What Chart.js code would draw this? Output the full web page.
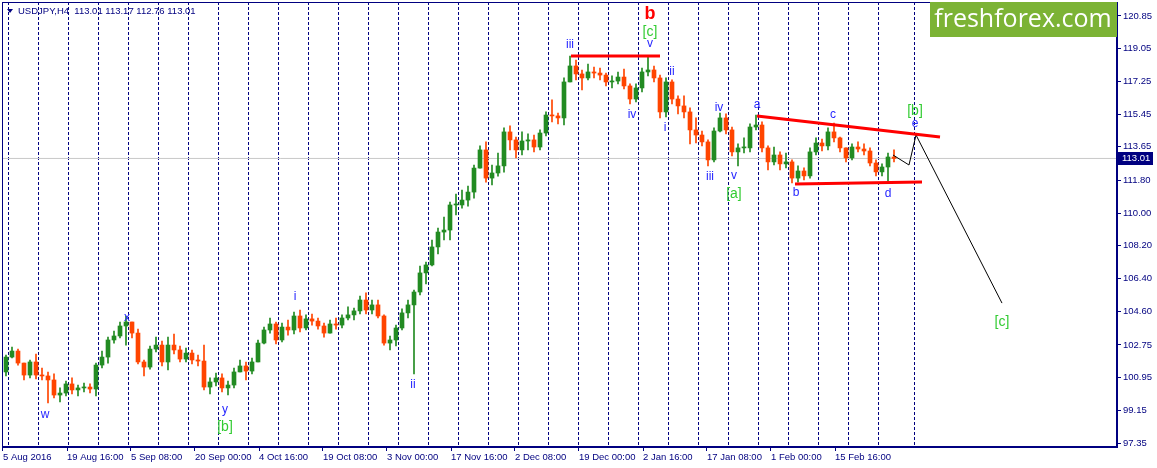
<!DOCTYPE html>
<html>
<head>
<meta charset="utf-8">
<script src="https://cdn.jsdelivr.net/npm/chart.js@4.4.1/dist/chart.umd.min.js"></script>
<style>
    html, body { margin: 0; padding: 0; background: #ffffff; }
    #wrap { width: 1157px; height: 468px; }
</style>
</head>
<body>
<div id="wrap"><canvas id="chart"></canvas></div>
<script>
// USDJPY daily candles (one candle = 6 H4 bars)
const FIRST_OPEN = 101.26;
const LAST_PRICE = 113.01;

const closes = [
    102.08, 102.41, 101.75, 101.09, 101.81, 101.09, 101.04, 100.82, 99.99, 100.10,
    100.60, 100.27, 100.38, 100.43, 100.32, 101.64, 102.08, 103.02, 103.24, 103.79,
    104.01, 103.40, 101.81, 101.53, 102.52, 102.74, 101.81, 102.74, 102.47, 101.97,
    102.30, 101.92, 101.86, 100.43, 100.71, 100.93, 100.38, 100.54, 101.26, 101.59,
    101.31, 101.81, 102.85, 103.57, 103.90, 103.02, 103.73, 103.57, 104.34, 103.68,
    104.18, 104.06, 103.79, 103.40, 103.90, 103.84, 104.23, 104.40, 104.62, 105.22,
    104.67, 104.95, 104.34, 102.85, 103.02, 103.68, 104.51, 104.95, 105.66, 106.71,
    107.15, 108.14, 108.96, 109.07, 110.45, 110.45, 110.72, 111.16, 112.48, 113.48,
    111.93, 112.21, 112.60, 114.47, 114.03, 113.48, 113.97, 114.03, 113.64, 114.41,
    115.40, 115.35, 115.24, 117.22, 118.10, 117.66, 117.44, 117.77, 117.71, 117.60,
    117.22, 117.27, 117.49, 117.00, 116.28, 116.89, 117.77, 117.88, 117.44, 115.57,
    117.22, 116.28, 115.90, 115.57, 114.58, 114.30, 113.92, 112.93, 114.52, 115.24,
    114.58, 113.37, 113.59, 113.59, 114.74, 114.85, 113.59, 112.82, 113.20, 112.71,
    112.82, 111.93, 112.32, 112.05, 113.37, 113.86, 113.70, 114.47, 114.14, 113.59,
    113.04, 113.64, 113.53, 113.42, 112.76, 112.27, 112.54, 113.09, 113.01
];

const highs = [
    102.19, 102.63, 102.52, 101.75, 101.92, 102.25, 101.48, 101.26, 101.15, 100.38,
    100.76, 100.93, 100.54, 100.65, 100.60, 101.75, 102.41, 103.18, 103.51, 104.01,
    104.34, 104.01, 103.62, 101.92, 102.69, 103.18, 102.96, 103.18, 103.35, 102.69,
    102.58, 102.47, 102.19, 102.74, 100.93, 101.20, 101.15, 100.76, 101.48, 101.92,
    101.81, 102.03, 103.02, 103.73, 104.23, 104.01, 103.95, 104.12, 104.56, 104.67,
    104.40, 104.45, 104.23, 103.95, 104.12, 104.23, 104.40, 104.84, 104.78, 105.44,
    105.61, 105.22, 105.22, 104.40, 103.24, 103.84, 104.73, 105.22, 105.77, 107.09,
    107.31, 108.52, 109.18, 109.79, 110.61, 111.05, 111.27, 111.49, 112.65, 113.70,
    113.92, 112.65, 113.31, 114.69, 114.80, 114.19, 114.47, 114.36, 114.30, 114.58,
    115.57, 116.23, 115.51, 117.44, 118.65, 118.43, 117.88, 118.21, 118.04, 117.99,
    117.71, 117.55, 117.77, 117.93, 117.11, 117.11, 117.99, 118.59, 118.10, 117.60,
    117.44, 117.33, 116.45, 116.45, 115.79, 115.24, 114.52, 114.03, 114.69, 115.51,
    115.46, 114.74, 113.81, 114.14, 114.91, 115.40, 115.02, 113.70, 113.64, 113.37,
    113.31, 112.93, 112.60, 112.49, 113.59, 114.14, 114.08, 114.69, 114.96, 114.19,
    113.59, 113.81, 113.92, 113.81, 113.59, 112.93, 112.71, 113.31, 113.48
];

const lows = [
    101.04, 102.03, 101.64, 100.82, 100.93, 100.87, 100.82, 99.55, 99.83, 99.61,
    99.94, 100.05, 99.94, 100.16, 100.10, 99.94, 101.48, 101.75, 102.85, 103.13,
    102.74, 103.13, 101.70, 101.04, 101.42, 102.36, 101.59, 101.37, 102.25, 101.81,
    101.81, 101.70, 101.59, 100.27, 100.05, 100.49, 100.16, 99.99, 100.38, 101.26,
    100.82, 101.15, 101.81, 102.80, 103.40, 102.80, 102.91, 103.29, 103.35, 103.46,
    103.57, 103.84, 103.62, 103.18, 103.40, 103.62, 103.68, 104.12, 104.12, 104.45,
    104.45, 104.45, 104.23, 102.74, 102.47, 102.69, 103.57, 104.23, 101.15, 105.50,
    106.10, 107.09, 107.75, 108.52, 108.52, 109.90, 110.28, 110.39, 110.83, 112.48,
    111.71, 111.55, 112.04, 112.26, 113.48, 113.04, 113.20, 113.48, 113.37, 113.48,
    114.25, 115.02, 114.91, 114.85, 117.22, 117.33, 116.78, 117.33, 117.44, 117.33,
    117.00, 116.89, 117.11, 116.83, 116.01, 116.12, 116.67, 117.55, 117.22, 115.24,
    115.29, 116.01, 115.46, 115.24, 113.81, 113.86, 113.70, 112.60, 112.82, 114.47,
    114.36, 113.15, 112.60, 113.31, 113.37, 114.58, 113.37, 112.38, 112.65, 112.38,
    112.49, 111.66, 111.71, 111.83, 111.93, 113.20, 113.42, 113.48, 113.92, 113.37,
    112.82, 112.93, 113.37, 113.20, 112.60, 112.05, 112.05, 111.77, 112.82
];

// time axis is in trading days since 5 Aug 2016 00:00
const xTickLabels = [
    "5 Aug 2016", "19 Aug 16:00", "5 Sep 08:00", "20 Sep 00:00", "4 Oct 16:00",
    "19 Oct 08:00", "3 Nov 00:00", "17 Nov 16:00", "2 Dec 08:00", "19 Dec 00:00",
    "2 Jan 16:00", "17 Jan 08:00", "1 Feb 00:00", "15 Feb 16:00"
];
const xTickDays = [0, 10.667, 21.333, 32, 42.667, 53.333, 64, 74.667, 85.333, 96, 106.667, 117.333, 128, 138.667];
const weekGridDays = [1, 6, 11, 16, 21, 26, 31, 36, 41, 46, 51, 56, 61, 66, 71, 76, 81, 86, 91, 96,
    101, 106, 111, 116, 121, 126, 131, 136, 141, 146, 152];
const yTickValues = [97.35, 99.15, 100.95, 102.75, 104.60, 106.40, 108.20, 110.00, 111.80, 113.65, 115.45, 117.25, 119.05, 120.85];

// trend lines and forecast
const topLineDays = [94.67, 109.5];
const topLinePrices = [118.65, 118.65];
const upperLineDays = [125.67, 156.17];
const upperLinePrices = [115.35, 114.19];
const lowerLineDays = [132, 153.17];
const lowerLinePrices = [111.60, 111.71];
const forecastDays = [148.33, 151, 152.17, 166.5];
const forecastPrices = [113.20, 112.65, 114.30, 105.05];

// wave labels
const waveText = ["w", "x", "y", "[b]", "i", "ii", "iii", "b", "[c]", "v", "iv", "ii", "i", "iv", "iii", "v", "[a]", "a", "b", "c", "d", "[b]", "e", "[c]"];
const waveDays = [7, 20.67, 37, 37, 48.67, 68.33, 94.5, 107.83, 107.83, 107.83, 104.83, 111.5, 110.33, 119.33, 117.83, 121.83, 121.83, 125.67, 132.17, 138.33, 147.5, 152, 152, 166.5];
const wavePrices = [98.89, 104.23, 99.17, 98.23, 105.39, 100.54, 119.25, 120.96, 119.97, 119.31, 115.40, 117.77, 114.69, 115.79, 111.99, 112.05, 111.05, 115.95, 111.11, 115.40, 111.05, 115.62, 114.91, 104.01];
const waveKind = ["m", "m", "m", "g", "m", "m", "m", "r", "g", "m", "m", "m", "m", "m", "m", "m", "g", "m", "m", "m", "m", "g", "m", "g"];

const NAVY = "#000080";
const UP = "#228b22";
const DOWN = "#ff4500";
const FONT = "Liberation Sans";
const X_MIN = -1 / 6;
const X_MAX = 185.667;

const opens = closes.map((c, i) => (i === 0 ? FIRST_OPEN : closes[i - 1]));
const candleColors = closes.map((c, i) => (c >= opens[i] ? UP : DOWN));

function points(xs, ys) {
    return xs.map((x, i) => ({ x: x, y: ys[i] }));
}

function line(xs, ys, color, width) {
    return {
        type: "line",
        data: points(xs, ys),
        borderColor: color,
        borderWidth: width,
        pointRadius: 0,
        tension: 0,
        order: 0
    };
}

// no extra room for labels, the plot fills the frame
function noPad(s) {
    s.paddingTop = 0;
    s.paddingBottom = 0;
    s.paddingLeft = 0;
    s.paddingRight = 0;
}

const decor = {
    id: "decor",
    afterDraw(chart) {
        const ctx = chart.ctx;
        const a = chart.chartArea;
        const xs = chart.scales.x;
        const ys = chart.scales.y;
        ctx.save();

        // frame
        ctx.strokeStyle = NAVY;
        ctx.lineWidth = 1;
        ctx.strokeRect(a.left + 0.5, a.top + 0.5, a.right - a.left - 1, a.bottom - a.top - 1);

        // title
        ctx.fillStyle = NAVY;
        ctx.beginPath();
        ctx.moveTo(a.left + 5, a.top + 7);
        ctx.lineTo(a.left + 11, a.top + 7);
        ctx.lineTo(a.left + 8, a.top + 11);
        ctx.closePath();
        ctx.fill();
        ctx.font = "9.5px '" + FONT + "'";
        ctx.textBaseline = "middle";
        ctx.textAlign = "left";
        ctx.fillText("USDJPY,H4  113.01 113.17 112.76 113.01", a.left + 16, a.top + 9);

        // wave labels
        ctx.textAlign = "center";
        for (let i = 0; i < waveText.length; i++) {
            const px = xs.getPixelForValue(waveDays[i]);
            const py = ys.getPixelForValue(wavePrices[i]);
            if (waveKind[i] === "r") {
                ctx.font = "bold 18px '" + FONT + "'";
                ctx.fillStyle = "#ff0000";
            } else if (waveKind[i] === "g") {
                ctx.font = "14px '" + FONT + "'";
                ctx.fillStyle = "#33cc33";
            } else {
                ctx.font = "12px '" + FONT + "'";
                ctx.fillStyle = "#2626ff";
            }
            ctx.fillText(waveText[i], px, py);
        }

        // last price tag
        const ly = Math.round(ys.getPixelForValue(LAST_PRICE));
        ctx.fillStyle = NAVY;
        ctx.fillRect(a.right + 1, ly - 6, 35, 13);
        ctx.fillStyle = "#ffffff";
        ctx.font = "9.5px '" + FONT + "'";
        ctx.textAlign = "left";
        ctx.fillText(LAST_PRICE.toFixed(2), a.right + 5, ly + 0.5);

        // logo
        ctx.fillStyle = "#7cb335";
        ctx.fillRect(a.right - 187, a.top, 187, 35);
        ctx.fillStyle = "#ffffff";
        ctx.font = "25px 'Open Sans'";
        ctx.textAlign = "center";
        ctx.fillText("freshforex.com", a.right - 94, a.top + 18);

        ctx.restore();
    }
};

function main() {
    Chart.defaults.font.family = FONT;
    Chart.defaults.font.size = 9.5;
    Chart.defaults.color = NAVY;

    const canvas = document.getElementById("chart").getContext("2d");

    new Chart(canvas, {
        type: "bar",
        data: {
            datasets: [
                {
                    type: "line",
                    data: points([X_MIN, X_MAX], [LAST_PRICE, LAST_PRICE]),
                    borderColor: "#c8c8c8",
                    borderWidth: 1,
                    pointRadius: 0,
                    order: 10
                },
                {
                    data: points(closes.map((c, i) => i + 0.5), lows.map((l, i) => [l, highs[i]])),
                    backgroundColor: candleColors,
                    barThickness: 1,
                    grouped: false,
                    order: 3
                },
                {
                    data: points(closes.map((c, i) => i + 0.5), opens.map((o, i) => [o, closes[i]])),
                    backgroundColor: candleColors,
                    barThickness: 4,
                    minBarLength: 1,
                    grouped: false,
                    order: 2
                },
                line(topLineDays, topLinePrices, "#ff0000", 3),
                line(upperLineDays, upperLinePrices, "#ff0000", 3),
                line(lowerLineDays, lowerLinePrices, "#ff0000", 3),
                line(forecastDays, forecastPrices, "#000000", 1)
            ]
        },
        options: {
            responsive: true,
            maintainAspectRatio: false,
            animation: false,
            events: [],
            layout: { padding: { left: 2, top: 2, right: 0, bottom: 0 } },
            plugins: { legend: { display: false }, tooltip: { enabled: false } },
            scales: {
                x: {
                    type: "linear",
                    position: "bottom",
                    min: X_MIN,
                    max: X_MAX,
                    offset: false,
                    afterBuildTicks: (s) => { s.ticks = xTickDays.map((v) => ({ value: v })); },
                    afterFit: (s) => { s.height = 21; noPad(s); },
                    ticks: {
                        autoSkip: false,
                        maxRotation: 0,
                        minRotation: 0,
                        align: "start",
                        padding: 1,
                        color: NAVY,
                        callback: (v, i) => xTickLabels[i]
                    },
                    grid: { offset: false, drawOnChartArea: false, drawTicks: true, tickLength: 4, color: NAVY },
                    border: { color: NAVY }
                },
                xg: {
                    type: "linear",
                    position: "bottom",
                    min: X_MIN,
                    max: X_MAX,
                    offset: false,
                    afterBuildTicks: (s) => { s.ticks = weekGridDays.map((v) => ({ value: v })); },
                    afterFit: (s) => { s.height = 0; noPad(s); },
                    ticks: { display: false },
                    grid: { offset: false, drawOnChartArea: true, drawTicks: false, color: NAVY, lineWidth: 1 },
                    border: { display: false, dash: [3, 2] }
                },
                y: {
                    type: "linear",
                    position: "right",
                    min: 97.13,
                    max: 121.62,
                    afterBuildTicks: (s) => { s.ticks = yTickValues.map((v) => ({ value: v })); },
                    afterFit: (s) => { s.width = 40; noPad(s); },
                    ticks: {
                        autoSkip: false,
                        padding: 2,
                        color: NAVY,
                        callback: (v) => Number(v).toFixed(2)
                    },
                    grid: { drawOnChartArea: false, drawTicks: true, tickLength: 4, color: NAVY },
                    border: { color: NAVY }
                }
            }
        },
        plugins: [decor]
    });
}

main();
</script>
</body>
</html>
